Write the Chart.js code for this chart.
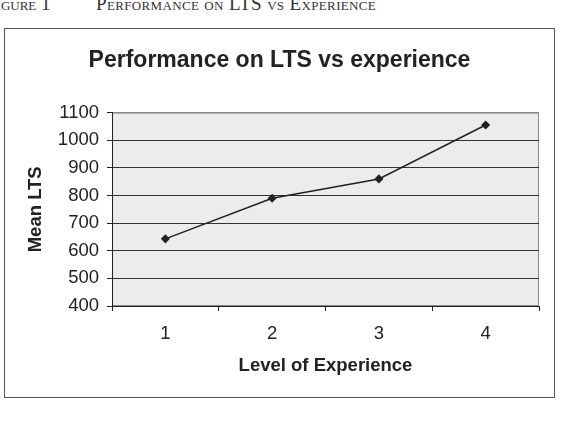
<!DOCTYPE html>
<html>
<head>
<meta charset="utf-8">
<script src="https://cdn.jsdelivr.net/npm/chart.js@4.4.0/dist/chart.umd.min.js"></script>
<style>
  html, body { margin: 0; padding: 0; background: #fff; }
  #wrap { position: relative; width: 563px; height: 422px; overflow: hidden; }
  .cap {
    position: absolute; top: -7px; white-space: pre;
    font-family: "Liberation Serif", serif; font-size: 19px; font-variant: small-caps;
    color: #333;
  }
  #frame {
    position: absolute; left: 4px; top: 28px; width: 549px; height: 368px;
    border: 1px solid #555; box-sizing: content-box;
  }
  canvas { position: absolute; left: 0; top: 0; }
</style>
</head>
<body>
<div id="wrap">
  <div class="cap" style="left:-14px">Figure 1</div>
  <div class="cap" style="left:96px; letter-spacing:0.35px">Performance on LTS vs Experience</div>
  <div id="frame"></div>
  <canvas id="lineChart" width="563" height="422"></canvas>
</div>
<script>
// data
const levels = ['1', '2', '3', '4'];
const meanLTS = [643, 790, 860, 1055];
const yMin = 400;
const yMax = 1100;
const yStep = 100;

const ink = '#222';

// grey plot area like the Excel default
const plotBackground = {
  id: 'plotBackground',
  beforeDraw(chart) {
    const a = chart.chartArea;
    const ctx = chart.ctx;
    ctx.save();
    ctx.fillStyle = '#ececec';
    ctx.fillRect(a.left, a.top, a.right - a.left, a.bottom - a.top);
    ctx.strokeStyle = '#8a8a8a';
    ctx.lineWidth = 1;
    ctx.strokeRect(a.left + 0.5, a.top + 0.5, a.right - a.left - 1, a.bottom - a.top - 1);
    ctx.restore();
  }
};

var ctx = document.getElementById('lineChart').getContext('2d');
var lineChart = new Chart(ctx, {
  type: 'line',
  data: {
    labels: levels,
    datasets: [{
      label: 'Mean LTS',
      data: meanLTS,
      borderColor: ink,
      borderWidth: 1.5,
      pointStyle: 'rectRot',
      pointRadius: 3.5,
      pointBackgroundColor: ink,
      pointBorderColor: ink,
      tension: 0
    }]
  },
  options: {
    responsive: false,
    animation: false,
    layout: {
      padding: { left: 20, right: 24, top: 28, bottom: 36 }
    },
    plugins: {
      legend: { display: false },
      tooltip: { enabled: false },
      title: {
        display: true,
        text: 'Performance on LTS vs experience',
        color: ink,
        font: { family: 'Liberation Sans', size: 23, weight: 'bold' },
        padding: { top: 19, bottom: 38 }
      }
    },
    scales: {
      x: {
        offset: true,
        afterFit: s => { s.height = 80; },
        grid: {
          offset: true,
          drawOnChartArea: false,
          drawTicks: true,
          tickLength: 5,
          color: ink
        },
        border: { color: ink, width: 1 },
        ticks: {
          color: ink,
          padding: 12,
          font: { family: 'Liberation Sans', size: 18.5 }
        },
        title: {
          display: true,
          text: 'Level of Experience',
          color: ink,
          font: { family: 'Liberation Sans', size: 18.5, weight: 'bold' },
          padding: { top: 0, bottom: 9 }
        }
      },
      y: {
        min: yMin,
        max: yMax,
        afterFit: s => { s.width = 92; },
        grid: {
          color: c => (c.tick && c.tick.value === yMax) ? '#8a8a8a' : '#333',
          tickColor: ink,
          tickLength: 5,
          lineWidth: 1
        },
        border: { color: ink, width: 1 },
        ticks: {
          stepSize: yStep,
          color: ink,
          padding: 8,
          callback: v => String(v),
          font: { family: 'Liberation Sans', size: 18.5 }
        },
        title: {
          display: true,
          text: 'Mean LTS',
          color: ink,
          font: { family: 'Liberation Sans', size: 18.5, weight: 'bold' },
          padding: { top: 5, bottom: 0 }
        }
      }
    }
  },
  plugins: [plotBackground]
});
</script>
</body>
</html>
